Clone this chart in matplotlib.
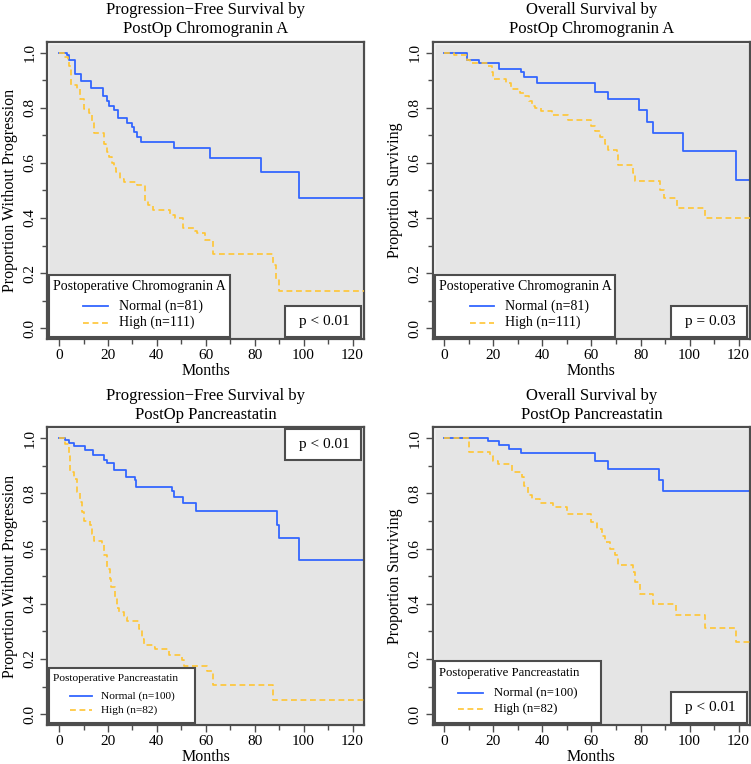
import matplotlib
matplotlib.use("Agg")
import matplotlib.pyplot as plt
from matplotlib.patches import Rectangle

plt.rcParams['font.family'] = ['Liberation Serif', 'DejaVu Serif']

# Kaplan-Meier steps (months, proportion after the drop)
pfs_cga_normal_t = [3.3, 4.2, 6.4, 9.0, 13.2, 18.0, 19.6, 20.5, 22.3, 24.3, 27.7, 29.8, 30.7, 31.8, 33.5, 47.2, 61.9, 82.4, 98.1]
pfs_cga_normal_s = [0.99, 0.974, 0.922, 0.898, 0.872, 0.841, 0.826, 0.808, 0.793, 0.762, 0.745, 0.73, 0.712, 0.695, 0.675, 0.654, 0.618, 0.567, 0.471]
pfs_cga_high_t = [2.0, 3.5, 4.0, 4.8, 7.5, 8.7, 10.1, 12.2, 13.5, 14.2, 18.3, 19.0, 19.7, 20.4, 21.5, 22.4, 23.1, 25.0, 26.5, 32.0, 35.0, 36.4, 38.4, 45.2, 47.5, 50.5, 55.5, 56.5, 59.5, 62.8, 87.3, 88.6, 90.0]
pfs_cga_high_s = [0.985, 0.965, 0.95, 0.882, 0.868, 0.832, 0.796, 0.78, 0.745, 0.709, 0.67, 0.66, 0.64, 0.622, 0.60, 0.58, 0.567, 0.543, 0.531, 0.519, 0.46, 0.447, 0.429, 0.411, 0.40, 0.363, 0.351, 0.345, 0.32, 0.27, 0.23, 0.18, 0.135]

os_cga_normal_t = [9.1, 14.2, 22.1, 31.2, 32.3, 37.6, 61.4, 66.6, 79.5, 82.7, 85.0, 97.3, 119.0]
os_cga_normal_s = [0.974, 0.962, 0.942, 0.93, 0.91, 0.89, 0.858, 0.832, 0.792, 0.748, 0.708, 0.642, 0.537]
os_cga_high_t = [4.0, 9.2, 10.4, 17.8, 19.2, 19.9, 25.3, 27.1, 30.8, 32.6, 34.5, 35.6, 37.0, 39.2, 44.0, 50.5, 60.0, 61.4, 63.5, 65.5, 66.9, 70.3, 71.0, 77.1, 77.6, 88.0, 89.4, 94.8, 106.4]
os_cga_high_s = [0.99, 0.975, 0.962, 0.95, 0.93, 0.904, 0.89, 0.867, 0.855, 0.843, 0.826, 0.808, 0.80, 0.79, 0.774, 0.757, 0.735, 0.717, 0.693, 0.67, 0.645, 0.627, 0.594, 0.564, 0.533, 0.50, 0.471, 0.437, 0.399]

pfs_pst_normal_t = [2.3, 3.9, 6.0, 10.7, 13.9, 18.2, 19.6, 22.3, 27.5, 30.9, 31.4, 46.1, 47.2, 50.5, 56.2, 89.0, 89.9, 98.0]
pfs_pst_normal_s = [0.992, 0.982, 0.970, 0.958, 0.938, 0.922, 0.91, 0.886, 0.859, 0.847, 0.823, 0.808, 0.787, 0.765, 0.737, 0.685, 0.639, 0.558]
pfs_pst_high_t = [2.6, 3.9, 4.6, 6.0, 7.3, 8.4, 9.4, 10.0, 12.8, 13.5, 14.1, 17.6, 18.2, 19.6, 21.0, 21.4, 23.0, 23.7, 24.4, 26.4, 27.8, 32.5, 33.9, 34.6, 38.6, 39.3, 44.8, 50.2, 50.9, 60.4, 63.1, 87.3]
pfs_pst_high_s = [0.978, 0.936, 0.876, 0.852, 0.804, 0.768, 0.732, 0.698, 0.684, 0.653, 0.629, 0.617, 0.575, 0.527, 0.491, 0.461, 0.42, 0.383, 0.37, 0.352, 0.337, 0.31, 0.274, 0.25, 0.244, 0.235, 0.214, 0.196, 0.176, 0.156, 0.106, 0.052]

os_pst_normal_t = [17.8, 22.1, 26.2, 31.2, 61.4, 66.6, 87.7, 89.1]
os_pst_normal_s = [0.988, 0.974, 0.96, 0.946, 0.917, 0.887, 0.847, 0.809]
os_pst_high_t = [10.0, 18.5, 19.9, 21.9, 27.4, 31.5, 32.6, 34.2, 35.6, 39.0, 44.4, 49.9, 60.0, 62.1, 64.2, 65.5, 67.6, 69.6, 71.0, 77.1, 77.8, 79.8, 85.0, 94.6, 106.2, 119.0]
os_pst_high_s = [0.948, 0.936, 0.918, 0.906, 0.876, 0.858, 0.828, 0.792, 0.78, 0.765, 0.75, 0.725, 0.696, 0.672, 0.647, 0.623, 0.60, 0.575, 0.542, 0.515, 0.479, 0.437, 0.40, 0.359, 0.314, 0.263]

max_followup = 130

titles = ['Progression\u2212Free Survival by\nPostOp Chromogranin A',
          'Overall Survival by\nPostOp Chromogranin A',
          'Progression\u2212Free Survival by\nPostOp Pancreastatin',
          'Overall Survival by\nPostOp Pancreastatin']
ylabels = ['Proportion Without Progression', 'Proportion Surviving',
           'Proportion Without Progression', 'Proportion Surviving']
legend_titles = ['Postoperative Chromogranin A', 'Postoperative Chromogranin A',
                 'Postoperative Pancreastatin', 'Postoperative Pancreastatin']
n_normal = [81, 81, 100, 100]
n_high = [111, 111, 82, 82]
p_values = ['p < 0.01', 'p = 0.03', 'p < 0.01', 'p < 0.01']

curves = [(pfs_cga_normal_t, pfs_cga_normal_s, pfs_cga_high_t, pfs_cga_high_s),
          (os_cga_normal_t, os_cga_normal_s, os_cga_high_t, os_cga_high_s),
          (pfs_pst_normal_t, pfs_pst_normal_s, pfs_pst_high_t, pfs_pst_high_s),
          (os_pst_normal_t, os_pst_normal_s, os_pst_high_t, os_pst_high_s)]

# axes rectangles (figure fraction) and key layout (axes fraction)
positions = [[0.063, 0.556, 0.4217, 0.3895], [0.5762, 0.556, 0.4225, 0.3895],
             [0.063, 0.0507, 0.4217, 0.3904], [0.5762, 0.0507, 0.4225, 0.3904]]
# box x0, x1, y0, y1, title x, title y, line x0, x1, line y normal, line y high, text x, fontsize
keys = [(0.0063, 0.577, 0.0067, 0.215, 0.018, 0.177, 0.113, 0.192, 0.112, 0.056, 0.226, 10),
        (0.007, 0.576, 0.0067, 0.215, 0.021, 0.177, 0.118, 0.193, 0.112, 0.056, 0.228, 10),
        (0.0063, 0.467, 0.0087, 0.192, 0.019, 0.156, 0.072, 0.140, 0.097, 0.050, 0.170, 8.2),
        (0.007, 0.529, 0.0087, 0.2145, 0.021, 0.175, 0.081, 0.158, 0.109, 0.056, 0.193, 9.2)]
pbox_y = [0.007, 0.007, 0.888, 0.009]

blue = '#3366FF'
gold = '#FFC533'
frame = '#4D4D4D'

fig = plt.figure(figsize=(7.51, 7.64), dpi=100)

for i in range(4):
    ax = fig.add_axes(positions[i])
    nt, ns, ht, hs = curves[i]
    ax.set_facecolor('#E5E5E5')
    ax.patch.set_edgecolor('white')
    ax.patch.set_linewidth(2.5)

    # normal first, high drawn over it
    ax.step([0] + nt + [max_followup], [1.0] + ns + [ns[-1]], where='post',
            color=blue, lw=1.3, zorder=2)
    ax.step([0] + ht + [max_followup], [1.0] + hs + [hs[-1]], where='post',
            color=gold, lw=1.2, ls=(0, (3.5, 2.2)), zorder=3)

    ax.set_xlim(-4.8, 124.7)
    ax.set_ylim(-0.04, 1.04)
    ax.set_xticks(range(0, 121, 20))
    ax.set_xticks(range(0, 121, 10), minor=True)
    ax.set_yticks([0, 0.2, 0.4, 0.6, 0.8, 1.0])
    ax.set_yticks([k / 10 for k in range(11)], minor=True)
    ax.set_yticklabels(['0.0', '0.2', '0.4', '0.6', '0.8', '1.0'], rotation=90,
                       rotation_mode='anchor', ha='center', va='baseline')
    ax.tick_params(which='major', length=5, width=1, color=frame, labelsize=11)
    ax.tick_params(axis='x', pad=2)
    ax.tick_params(axis='y', pad=5)
    ax.tick_params(which='minor', length=3.5, width=1, color=frame)
    for s in ax.spines.values():
        s.set_color(frame)
        s.set_linewidth(1.6)

    ax.set_title(titles[i], fontsize=12, linespacing=1.25, pad=6)
    ax.set_xlabel('Months', fontsize=11.5, labelpad=1)
    ax.set_ylabel(ylabels[i], fontsize=11.5)
    ax.yaxis.set_label_coords(-0.094, 0.5)

    # key
    bx0, bx1, by0, by1, tx, ty, lx0, lx1, ly1, ly2, lt, fs = keys[i]
    ax.add_patch(Rectangle((bx0, by0), bx1 - bx0, by1 - by0, transform=ax.transAxes,
                           facecolor='white', edgecolor=frame, lw=1.5, zorder=5))
    ax.text(tx, ty, legend_titles[i], transform=ax.transAxes, fontsize=fs,
            va='center', ha='left', zorder=6)
    ax.plot([lx0, lx1], [ly1, ly1], transform=ax.transAxes, color=blue, lw=1.3, zorder=6)
    ax.plot([lx0, lx1], [ly2, ly2], transform=ax.transAxes, color=gold, lw=1.2,
            ls=(0, (3.5, 2.2)), zorder=6)
    ax.text(lt, ly1, 'Normal (n=%d)' % n_normal[i], transform=ax.transAxes,
            fontsize=fs, va='center', ha='left', zorder=6)
    ax.text(lt, ly2, 'High (n=%d)' % n_high[i], transform=ax.transAxes,
            fontsize=fs, va='center', ha='left', zorder=6)

    # p-value box
    py0 = pbox_y[i]
    ax.add_patch(Rectangle((0.751, py0), 0.239, 0.104, transform=ax.transAxes,
                           facecolor='white', edgecolor=frame, lw=1.5, zorder=5))
    ax.text(0.956, py0 + 0.052, p_values[i], transform=ax.transAxes, fontsize=11,
            ha='right', va='center', zorder=6)

fig.savefig('out.png', dpi=100)
